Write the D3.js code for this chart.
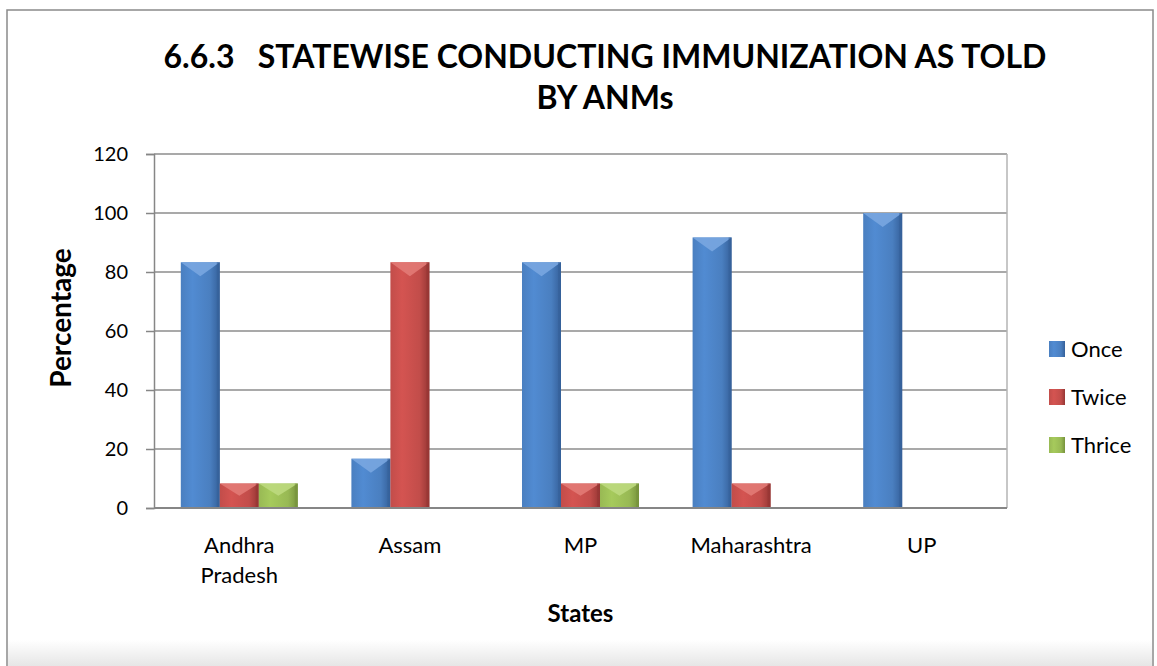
<!DOCTYPE html>
<html>
<head>
<meta charset="utf-8">
<script src="https://cdn.jsdelivr.net/npm/d3@7"></script>
<style>
  body { margin: 0; background: #fff; }
  text { font-family: Lato, "Open Sans", sans-serif; fill: #000; }
</style>
</head>
<body>
<div id="chart"></div>
<script>
// Data
const states = ["Andhra Pradesh", "Assam", "MP", "Maharashtra", "UP"];
const seriesNames = ["Once", "Twice", "Thrice"];
const once = [83.3, 16.7, 83.3, 91.7, 100];
const twice = [8.3, 83.3, 8.3, 8.3, 0];
const thrice = [8.3, 0, 8.3, 0, 0];
const yTicks = [0, 20, 40, 60, 80, 100, 120];
const titleLines = ["6.6.3   STATEWISE CONDUCTING IMMUNIZATION AS TOLD", "BY ANMs"];

const seriesValues = { Once: once, Twice: twice, Thrice: thrice };

// colours: base, light, dark
const palette = {
    Once:   ["#4a7fc0", "#79a6e0", "#35609a"],
    Twice:  ["#c24d4a", "#e27a76", "#963634"],
    Thrice: ["#98b954", "#bcd97e", "#77933c"]
};

const W = 1157, H = 666;
const plot = { left: 154, right: 1007, top: 154, bottom: 508 };

const svg = d3.select("#chart").append("svg")
    .attr("width", W)
    .attr("height", H);

const defs = svg.append("defs");

// horizontal cylinder-like shading for each series
seriesNames.forEach(s => {
    const c = palette[s];
    const grad = defs.append("linearGradient")
        .attr("id", "grad-" + s)
        .attr("x1", "0%").attr("x2", "100%")
        .attr("y1", "0%").attr("y2", "0%");
    grad.append("stop").attr("offset", "0%").attr("stop-color", c[0]);
    grad.append("stop").attr("offset", "30%").attr("stop-color", d3.color(c[0]).brighter(0.25));
    grad.append("stop").attr("offset", "75%").attr("stop-color", c[0]);
    grad.append("stop").attr("offset", "100%").attr("stop-color", c[2]);
});

// bottom shadow of the chart frame
const shadow = defs.append("linearGradient")
    .attr("id", "frame-shadow")
    .attr("x1", "0%").attr("x2", "0%").attr("y1", "0%").attr("y2", "100%");
shadow.append("stop").attr("offset", "0%").attr("stop-color", "#fff");
shadow.append("stop").attr("offset", "100%").attr("stop-color", "#e6e6e6");

// outer frame
svg.append("rect")
    .attr("x", 7).attr("y", 10)
    .attr("width", 1146).attr("height", 660)
    .attr("fill", "#fff")
    .attr("stroke", "#8a8a8a")
    .attr("stroke-width", 1.5);

svg.append("rect")
    .attr("x", 8).attr("y", 640)
    .attr("width", 1144).attr("height", 26)
    .attr("fill", "url(#frame-shadow)");

// scales
const x0 = d3.scaleBand()
    .domain(states)
    .range([plot.left, plot.right])
    .padding(0);

const x1 = d3.scaleBand()
    .domain(seriesNames)
    .range([0, x0.bandwidth()])
    .paddingInner(0)
    .paddingOuter(0.687);

const y = d3.scaleLinear()
    .domain([0, 120])
    .range([plot.bottom, plot.top]);

// gridlines
svg.append("g")
    .selectAll("line")
    .data(yTicks.filter(t => t > 0))
    .enter()
    .append("line")
    .attr("x1", plot.left)
    .attr("x2", plot.right)
    .attr("y1", d => y(d))
    .attr("y2", d => y(d))
    .attr("stroke", "#8c8c8c")
    .attr("stroke-width", 1.3);

// plot area right edge
svg.append("line")
    .attr("x1", plot.right).attr("x2", plot.right)
    .attr("y1", plot.top).attr("y2", plot.bottom)
    .attr("stroke", "#b5b5b5")
    .attr("stroke-width", 1.5);

// bars
const barData = [];
states.forEach((st, i) => {
    seriesNames.forEach(s => {
        barData.push({ state: st, series: s, value: seriesValues[s][i] });
    });
});

const bars = svg.append("g")
    .selectAll("g.bar")
    .data(barData.filter(d => d.value > 0))
    .enter()
    .append("g")
    .attr("class", "bar");

bars.append("rect")
    .attr("x", d => x0(d.state) + x1(d.series))
    .attr("y", d => y(d.value))
    .attr("width", x1.bandwidth())
    .attr("height", d => y(0) - y(d.value))
    .attr("fill", d => "url(#grad-" + d.series + ")");

// bevel at the top of each bar: light downward chevron
bars.append("path")
    .attr("d", d => {
        const xa = x0(d.state) + x1(d.series);
        const w = x1.bandwidth();
        const ya = y(d.value);
        const h = Math.min(14, (y(0) - ya) / 2);
        return `M${xa},${ya} L${xa + w},${ya} L${xa + w / 2},${ya + h} Z`;
    })
    .attr("fill", d => palette[d.series][1])
    .attr("opacity", 0.9);

// right edge darker strip
bars.append("rect")
    .attr("x", d => x0(d.state) + x1(d.series) + x1.bandwidth() - 3)
    .attr("y", d => y(d.value))
    .attr("width", 3)
    .attr("height", d => y(0) - y(d.value))
    .attr("fill", d => palette[d.series][2])
    .attr("opacity", 0.6);

// y axis
const yAxis = d3.axisLeft(y)
    .tickValues(yTicks)
    .tickSize(8)
    .tickPadding(18);

const yAxisG = svg.append("g")
    .attr("transform", `translate(${plot.left},0)`)
    .call(yAxis);

yAxisG.select(".domain").attr("stroke", "#868686").attr("stroke-width", 1.5);
yAxisG.selectAll(".tick line").attr("stroke", "#868686").attr("stroke-width", 1.5);
yAxisG.selectAll(".tick text")
    .attr("font-size", "20px")
    .attr("font-family", "Lato, 'Open Sans', sans-serif")
    .attr("fill", "#000");

// x axis baseline
svg.append("line")
    .attr("x1", plot.left).attr("x2", plot.right)
    .attr("y1", plot.bottom).attr("y2", plot.bottom)
    .attr("stroke", "#868686")
    .attr("stroke-width", 2);

// x category labels (wrapped)
const xLabels = svg.append("g")
    .selectAll("text")
    .data(states)
    .enter()
    .append("text")
    .attr("text-anchor", "middle")
    .attr("font-size", "22px")
    .attr("y", 553);

xLabels.each(function(d) {
    const words = d === "Andhra Pradesh" ? ["Andhra", "Pradesh"] : [d];
    const t = d3.select(this);
    words.forEach((w, i) => {
        t.append("tspan")
            .attr("x", x0(d) + x0.bandwidth() / 2)
            .attr("dy", i === 0 ? 0 : 30)
            .text(w);
    });
});

// axis titles
svg.append("text")
    .attr("x", (plot.left + plot.right) / 2)
    .attr("y", 622)
    .attr("text-anchor", "middle")
    .attr("font-size", "24px")
    .attr("font-weight", "bold")
    .text("States");

svg.append("text")
    .attr("transform", `translate(71,318) rotate(-90)`)
    .attr("text-anchor", "middle")
    .attr("font-size", "28px")
    .attr("font-weight", "bold")
    .text("Percentage");

// chart title
svg.append("g")
    .selectAll("text")
    .data(titleLines)
    .enter()
    .append("text")
    .attr("x", 605)
    .attr("y", (d, i) => 68 + i * 41)
    .attr("text-anchor", "middle")
    .attr("font-size", "32px")
    .attr("font-weight", "bold")
    .attr("xml:space", "preserve")
    .style("white-space", "pre")
    .text(d => d);

// legend
const legend = svg.append("g")
    .selectAll("g")
    .data(seriesNames)
    .enter()
    .append("g")
    .attr("transform", (d, i) => `translate(1049,${349 + i * 48})`);

legend.append("rect")
    .attr("x", 0)
    .attr("y", -8)
    .attr("width", 16)
    .attr("height", 16)
    .attr("fill", d => "url(#grad-" + d + ")");

legend.append("text")
    .attr("x", 22)
    .attr("y", 0)
    .attr("dy", "0.35em")
    .attr("font-size", "22px")
    .text(d => d);
</script>
</body>
</html>
